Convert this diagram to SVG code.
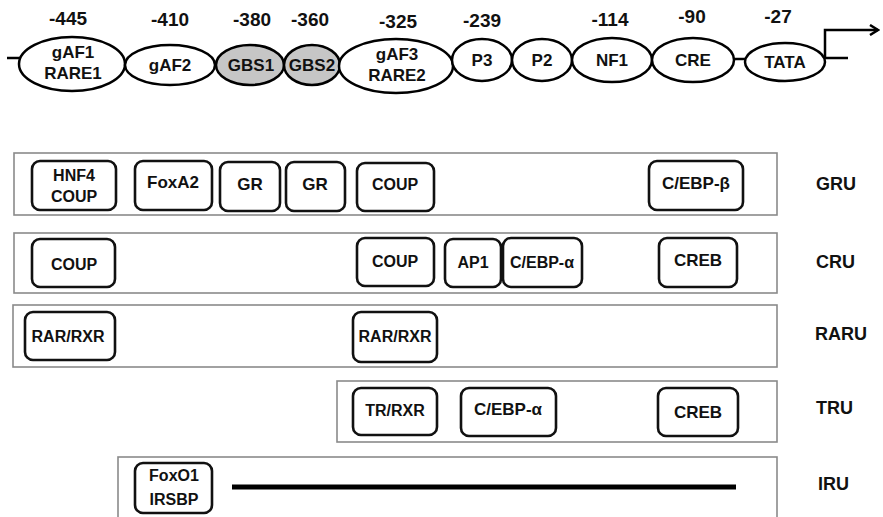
<svg xmlns="http://www.w3.org/2000/svg" width="883" height="517" viewBox="0 0 883 517">
<defs>
<marker id="arr" markerWidth="12" markerHeight="12" refX="10" refY="6" orient="auto" markerUnits="userSpaceOnUse">
<path d="M2,1 L10,6 L2,11" fill="none" stroke="#000" stroke-width="2.5"/>
</marker>
</defs>
<style>
text{font-family:"Liberation Sans",Arial,sans-serif;font-weight:bold;fill:#111;text-anchor:middle}
.num{font-size:19px}
.el{fill:#fff;stroke:#000;stroke-width:2.5}
.gbs{fill:#c6c6c6}
.et{font-size:17px}
.unit{fill:#fff;stroke:#8a8a8a;stroke-width:1.6}
.box{fill:#fff;stroke:#111;stroke-width:2.6}
.bt{font-size:16px}
.lab{font-size:18px;text-anchor:start}
.ln{stroke:#000;stroke-width:2.5;fill:none}
</style>
<rect width="883" height="517" fill="#fff"/>

<g id="numbers">
<text class="num" x="68" y="25">-445</text>
<text class="num" x="170" y="26">-410</text>
<text class="num" x="252" y="26">-380</text>
<text class="num" x="310" y="26">-360</text>
<text class="num" x="398" y="28">-325</text>
<text class="num" x="482" y="27">-239</text>
<text class="num" x="610" y="26">-114</text>
<text class="num" x="692" y="23">-90</text>
<text class="num" x="778" y="23">-27</text>
</g>

<g id="connectors">
<line class="ln" x1="7" y1="58" x2="20" y2="58"/>
<line class="ln" x1="734" y1="59" x2="746" y2="59"/>
<line class="ln" x1="824" y1="58" x2="848" y2="58"/>
<polyline class="ln" points="825,58 825,30 878,30" marker-end="url(#arr)"/>
</g>

<g id="gAF1"><ellipse class="el" cx="72" cy="64" rx="53" ry="27"/><text class="et" x="73" y="58">gAF1</text><text class="et" x="73" y="79">RARE1</text></g>
<g id="gAF2"><ellipse class="el" cx="170" cy="65" rx="45" ry="20"/><text class="et" x="170" y="71">gAF2</text></g>
<g id="GBS1"><ellipse class="el gbs" cx="250" cy="65" rx="34" ry="20"/><text class="et" x="251" y="71">GBS1</text></g>
<g id="GBS2"><ellipse class="el gbs" cx="312" cy="65" rx="28" ry="20"/><text class="et" x="312" y="71">GBS2</text></g>
<g id="gAF3"><ellipse class="el" cx="396" cy="66" rx="57" ry="27"/><text class="et" x="397" y="60">gAF3</text><text class="et" x="397" y="81">RARE2</text></g>
<g id="P3"><ellipse class="el" cx="482" cy="60" rx="30" ry="21"/><text class="et" x="482" y="66">P3</text></g>
<g id="P2"><ellipse class="el" cx="542" cy="60" rx="30" ry="21"/><text class="et" x="542" y="66">P2</text></g>
<g id="NF1"><ellipse class="el" cx="612" cy="60" rx="40" ry="22"/><text class="et" x="612" y="66">NF1</text></g>
<g id="CRE"><ellipse class="el" cx="693" cy="60" rx="41" ry="22"/><text class="et" x="693" y="66">CRE</text></g>
<g id="TATA"><ellipse class="el" cx="785" cy="62" rx="40" ry="19"/><text class="et" x="785" y="68">TATA</text></g>

<g id="GRU">
<rect class="unit" x="14" y="153" width="763" height="62"/>
<text class="lab" x="816" y="190">GRU</text>
<g id="gru-hnf4"><rect class="box" x="32" y="161" width="84" height="49" rx="8"/><text class="bt" x="74" y="181">HNF4</text><text class="bt" x="74" y="202">COUP</text></g>
<g id="gru-foxa2"><rect class="box" x="135" y="161" width="77" height="49" rx="8"/><text class="bt" x="173" y="188" style="font-size:17px">FoxA2</text></g>
<g id="gru-gr1"><rect class="box" x="220" y="162" width="60" height="49" rx="8"/><text class="bt" x="250" y="190" style="font-size:17px">GR</text></g>
<g id="gru-gr2"><rect class="box" x="286" y="162" width="59" height="49" rx="8"/><text class="bt" x="315" y="190" style="font-size:17px">GR</text></g>
<g id="gru-coup"><rect class="box" x="357" y="163" width="77" height="48" rx="8"/><text class="bt" x="395" y="190">COUP</text></g>
<g id="gru-cebpb"><rect class="box" x="649" y="161" width="94" height="49" rx="8"/><text class="bt" x="696" y="189" style="font-size:17px">C/EBP-β</text></g>
</g>

<g id="CRU">
<rect class="unit" x="14" y="233" width="763" height="60"/>
<text class="lab" x="816" y="268">CRU</text>
<g id="cru-coup1"><rect class="box" x="32" y="239" width="83" height="48" rx="8"/><text class="bt" x="74" y="270">COUP</text></g>
<g id="cru-coup2"><rect class="box" x="357" y="238" width="77" height="48" rx="8"/><text class="bt" x="395" y="267">COUP</text></g>
<g id="cru-ap1"><rect class="box" x="445" y="239" width="56" height="48" rx="8"/><text class="bt" x="473" y="268">AP1</text></g>
<g id="cru-cebpa"><rect class="box" x="503" y="238" width="79" height="49" rx="8"/><text class="bt" x="542" y="268">C/EBP-α</text></g>
<g id="cru-creb"><rect class="box" x="659" y="238" width="78" height="49" rx="8"/><text class="bt" x="698" y="266" style="font-size:17px">CREB</text></g>
</g>

<g id="RARU">
<rect class="unit" x="13" y="305" width="764" height="62"/>
<text class="lab" x="815" y="340">RARU</text>
<g id="raru-1"><rect class="box" x="25" y="312" width="90" height="48" rx="8"/><text class="bt" x="68" y="342">RAR/RXR</text></g>
<g id="raru-2"><rect class="box" x="353" y="312" width="84" height="50" rx="8"/><text class="bt" x="395" y="342">RAR/RXR</text></g>
</g>

<g id="TRU">
<rect class="unit" x="337" y="381" width="440" height="61"/>
<text class="lab" x="816" y="414">TRU</text>
<g id="tru-trrxr"><rect class="box" x="353" y="388" width="84" height="47" rx="8"/><text class="bt" x="395" y="416">TR/RXR</text></g>
<g id="tru-cebpa"><rect class="box" x="461" y="388" width="95" height="48" rx="8"/><text class="bt" x="508" y="415" style="font-size:17px">C/EBP-α</text></g>
<g id="tru-creb"><rect class="box" x="658" y="388" width="80" height="48" rx="8"/><text class="bt" x="698" y="418" style="font-size:17px">CREB</text></g>
</g>

<g id="IRU">
<rect class="unit" x="118" y="457" width="659" height="64"/>
<text class="lab" x="818" y="490">IRU</text>
<g id="iru-foxo1"><rect class="box" x="135" y="463" width="77" height="50" rx="8"/><text class="bt" x="174" y="481">FoxO1</text><text class="bt" x="174" y="505">IRSBP</text></g>
<line x1="232" y1="487" x2="736" y2="487" stroke="#000" stroke-width="5"/>
</g>
</svg>
